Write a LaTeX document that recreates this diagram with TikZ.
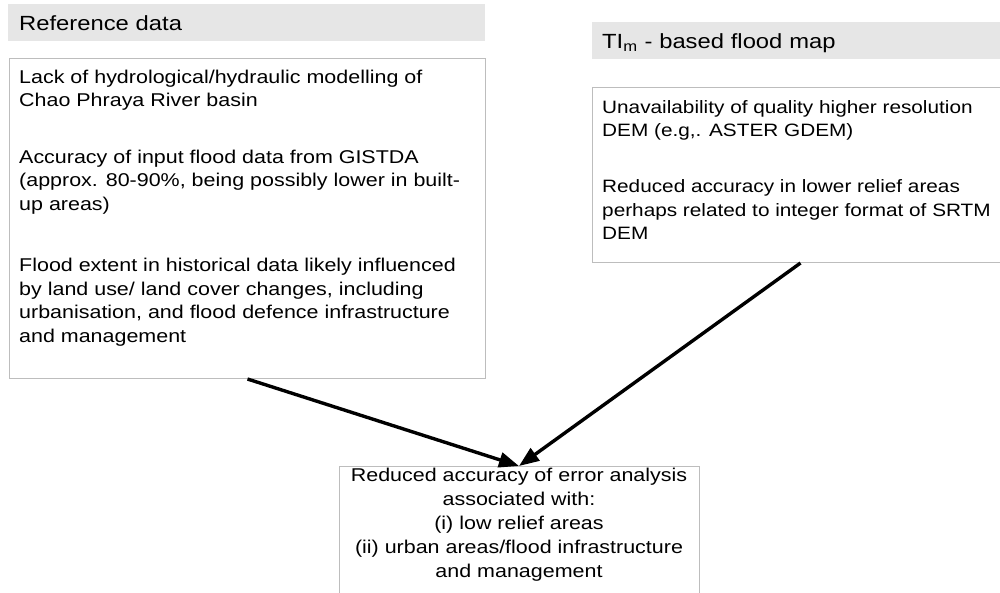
\documentclass[tikz,border=0pt]{standalone}
\usepackage{fontspec}
\setmainfont{Liberation Sans}[FakeStretch=1.16]
\usetikzlibrary{arrows.meta}
\definecolor{hdrgray}{HTML}{E6E6E6}
\definecolor{boxgray}{HTML}{BDBDBD}

\begin{document}
\begin{tikzpicture}
  [x=1pt,y=-1pt,
   hdr/.style={fill=hdrgray,anchor=north west,align=left,inner ysep=10pt,
     text height=16pt,text depth=1pt,font=\fontsize{20.5}{24}\selectfont},
   box/.style={draw=boxgray,line width=1pt,anchor=north west},
   txt/.style={anchor=north west,align=left,inner sep=0pt,
     font=\fontsize{18.5}{23.5}\selectfont},
   arr/.style={line width=3.4pt,-{Triangle[length=20pt,width=15pt]}}]
  \useasboundingbox (0,0) rectangle (1000,592);
  \node[hdr,inner xsep=11pt,text width=455pt] (refhdr) at (8,4) {Reference data};
  \node[hdr,inner xsep=10pt,text width=396pt] (demhdr) at (592,22) {TI\textsubscript{m} - based flood map};
  \node[box,minimum width=476pt,minimum height=320pt] (refbox) at (9,58) {};
  \node[box,minimum width=416pt,minimum height=175pt] (dembox) at (592,87) {};
  \node[box,anchor=north,minimum width=360pt,minimum height=140pt] (errbox) at (519,466) {};
  \node[txt] (reftxt) at (19,66.5) {\strut Lack of hydrological/hydraulic modelling of\\
    Chao Phraya River basin\\[33pt]
    Accuracy of input flood data from GISTDA\\
    (approx. 80-90\%, being possibly lower in built-\\
    up areas)\\[38pt]
    Flood extent in historical data likely influenced\\
    by land use/ land cover changes, including\\
    urbanisation, and flood defence infrastructure\\
    and management};
  \node[txt,font=\fontsize{17.9}{23.7}\selectfont] (demtxt) at (602,96.4) {\strut Unavailability of quality higher resolution\\
    DEM (e.g,. ASTER GDEM)\\[32pt]
    Reduced accuracy in lower relief areas\\
    perhaps related to integer format of SRTM\\
    DEM};
  \node[txt,anchor=north,align=center,font=\fontsize{18.5}{24}\selectfont] (errtxt) at (519,464.2)
    {\strut Reduced accuracy of error analysis\\
    associated with:\\
    (i) low relief areas\\
    (ii) urban areas/flood infrastructure\\
    and management};
  \draw[arr] (refbox.south) -- (errbox.north);
  \draw[arr] (dembox.south) -- (errbox.north);
\end{tikzpicture}
\end{document}
